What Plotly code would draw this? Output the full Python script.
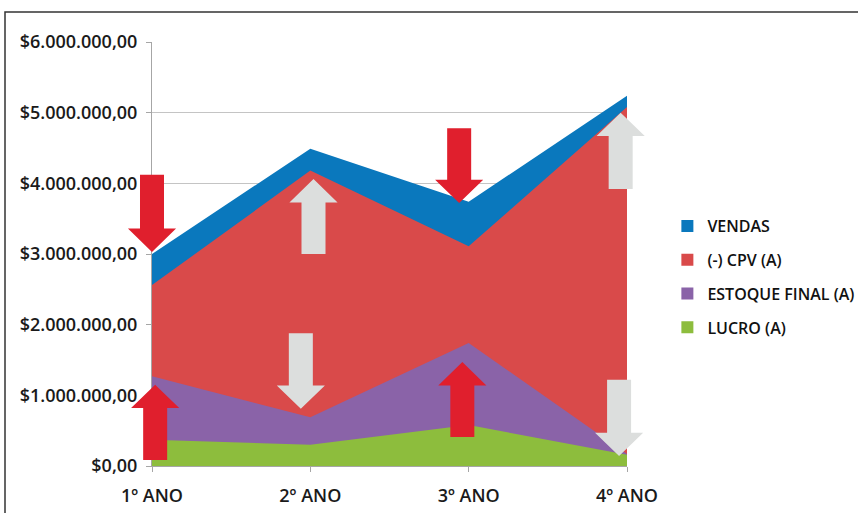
import plotly.graph_objects as go

categories = ["1º ANO", "2º ANO", "3º ANO", "4º ANO"]
vendas = [3.0e6, 4.49e6, 3.74e6, 5.24e6]
cpv = [2.56e6, 4.18e6, 3.11e6, 5.08e6]
estoque = [1.27e6, 0.69e6, 1.74e6, 0.17e6]
lucro = [0.37e6, 0.30e6, 0.58e6, 0.16e6]

series_names = ["VENDAS", "(-) CPV (A)", "ESTOQUE FINAL (A)", "LUCRO (A)"]
series_values = [vendas, cpv, estoque, lucro]
series_colors = ["#0a78bd", "#d94a4a", "#8a63a8", "#8dbd3d"]

y_tickvals = [0, 1e6, 2e6, 3e6, 4e6, 5e6, 6e6]
y_ticktext = ["$0,00", "$1.000.000,00", "$2.000.000,00", "$3.000.000,00",
              "$4.000.000,00", "$5.000.000,00", "$6.000.000,00"]

# decorative block arrows: (category position, tip value, tail value, colour)
RED = "#e01f2d"
GRAY = "#dcdedd"
arrows = [
    (0.0, 3.03e6, 4.12e6, RED),
    (1.02, 4.06e6, 3.0e6, GRAY),
    (1.94, 3.72e6, 4.78e6, RED),
    (2.96, 5.0e6, 3.92e6, GRAY),
    (0.02, 1.15e6, 0.085e6, RED),
    (0.94, 0.81e6, 1.88e6, GRAY),
    (1.96, 1.47e6, 0.41e6, RED),
    (2.95, 0.14e6, 1.22e6, GRAY),
]

fig = go.Figure()
xs = list(range(len(categories)))
for name, vals, col in zip(series_names, series_values, series_colors):
    fig.add_trace(go.Scatter(x=xs, y=vals, mode="lines", fill="tozeroy",
                             fillcolor=col, line=dict(width=0, color=col),
                             showlegend=False, hoverinfo="skip"))
for name, col in zip(series_names, series_colors):
    fig.add_trace(go.Scatter(x=[None], y=[None], mode="markers", name=name,
                             legendgroup=name,
                             marker=dict(symbol="square", size=8, color=col)))

XMAX = 3.0
YMAX = 6e6
shaft_hw = 0.0758 / XMAX   # paper units
head_hw = 0.152 / XMAX
head_len = 0.33e6 / YMAX

shapes = []
for xc, tip, tail, col in arrows:
    xp = xc / XMAX
    tp = tip / YMAX
    tl = tail / YMAX
    d = 1 if tail > tip else -1
    hb = tp + d * head_len
    path = (f"M {xp - shaft_hw},{tl} L {xp + shaft_hw},{tl} L {xp + shaft_hw},{hb} "
            f"L {xp + head_hw},{hb} L {xp},{tp} L {xp - head_hw},{hb} "
            f"L {xp - shaft_hw},{hb} Z")
    shapes.append(dict(type="path", xref="paper", yref="paper", path=path,
                       fillcolor=col, line=dict(width=0), layer="above"))

# outer frame
shapes.append(dict(type="rect", xref="paper", yref="paper",
                   x0=(5 - 152) / 475, x1=(870 - 152) / 475,
                   y0=(466 - 530) / 424, y1=(466 - 12) / 424,
                   line=dict(color="#333333", width=1.5), fillcolor="rgba(0,0,0,0)",
                   layer="below"))

font_family = "Open Sans"
fig.update_layout(
    width=858, height=513,
    margin=dict(l=152, r=231, t=42, b=47, autoexpand=False),
    paper_bgcolor="white", plot_bgcolor="white",
    shapes=shapes,
    showlegend=True,
    legend=dict(x=1.085, y=0.606, xanchor="left", yanchor="top",
                font=dict(family=font_family, size=16, color="#111111", weight=600),
                tracegroupgap=10, itemsizing="constant",
                itemwidth=30,
                bgcolor="rgba(0,0,0,0)"),
    xaxis=dict(range=[0, XMAX], tickvals=xs, ticktext=categories,
               showgrid=False, zeroline=False, showline=True, automargin=False,
               linecolor="#a6a6a6", linewidth=1, ticks="outside",
               ticklen=5, tickcolor="#a6a6a6", ticklabelstandoff=8,
               tickfont=dict(family=font_family, size=18, color="#1a1a1a", weight=600)),
    yaxis=dict(range=[0, YMAX], tickvals=y_tickvals, ticktext=y_ticktext,
               showgrid=True, gridcolor="#c4c4c4", gridwidth=1, zeroline=False,
               showline=True, automargin=False, linecolor="#a6a6a6", linewidth=1,
               ticks="outside", ticklen=5, tickcolor="#a6a6a6", ticklabelstandoff=5,
               tickfont=dict(family=font_family, size=18, color="#1a1a1a", weight=600)),
)

fig.write_html("out.html")
